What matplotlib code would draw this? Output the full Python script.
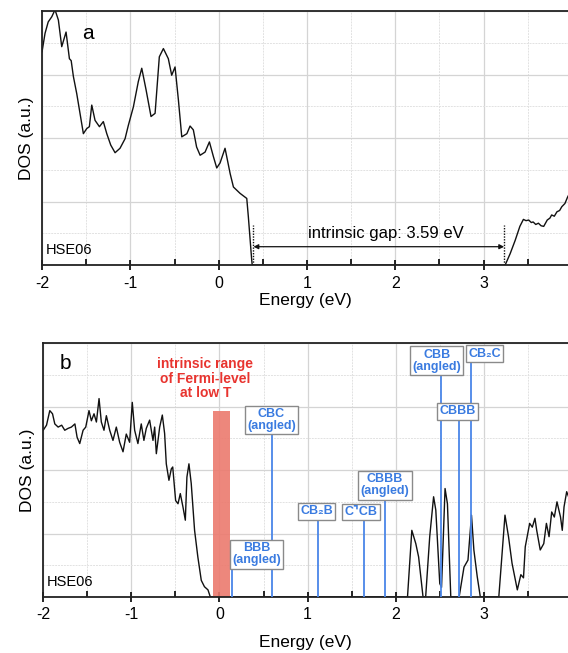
import matplotlib.pyplot as plt
from matplotlib.ticker import MultipleLocator

plt.rcParams['font.family'] = ['Liberation Sans', 'DejaVu Sans']
plt.rcParams['axes.unicode_minus'] = False

# panel a: HSE06 DOS, valence band and conduction band
vb_a_x = [-2.0, -1.966, -1.93, -1.89, -1.853, -1.815, -1.777, -1.728, -1.69, -1.67, -1.645, -1.607,
          -1.57, -1.532, -1.494, -1.464, -1.437, -1.40, -1.35, -1.306, -1.267, -1.222, -1.173, -1.117,
          -1.06, -1.023, -0.966, -0.91, -0.871, -0.822, -0.766, -0.72, -0.672, -0.626, -0.57, -0.532,
          -0.494, -0.456, -0.418, -0.36, -0.324, -0.287, -0.25, -0.21, -0.154, -0.105, -0.06, -0.022,
          0.016, 0.072, 0.13, 0.167, 0.242, 0.318, 0.336, 0.374, 0.38, 3.243]
vb_a_y = [3.36, 3.65, 3.83, 3.91, 4.02, 3.86, 3.44, 3.67, 3.25, 3.22, 2.97, 2.70,
          2.39, 2.07, 2.15, 2.18, 2.52, 2.28, 2.18, 2.26, 2.07, 1.89, 1.77, 1.84,
          1.99, 2.20, 2.49, 2.89, 3.10, 2.76, 2.34, 2.39, 3.28, 3.41, 3.25, 2.99,
          3.12, 2.60, 2.02, 2.07, 2.19, 2.13, 1.86, 1.73, 1.78, 1.94, 1.71, 1.53,
          1.61, 1.84, 1.44, 1.23, 1.13, 1.05, 0.76, 0.08, 0.0, 0.0]
cb_a_x = [3.243, 3.30, 3.357, 3.41, 3.45, 3.48, 3.51, 3.54, 3.56, 3.59, 3.62, 3.65, 3.68, 3.70,
          3.72, 3.75, 3.77, 3.80, 3.83, 3.86, 3.885, 3.92, 3.95, 3.98]
cb_a_y = [0.0, 0.18, 0.39, 0.61, 0.72, 0.70, 0.71, 0.67, 0.68, 0.64, 0.66, 0.62, 0.61, 0.66,
          0.71, 0.74, 0.79, 0.77, 0.84, 0.86, 0.92, 0.97, 1.07, 1.15]
gap_lo, gap_hi = 0.394, 3.232
gap_label = 'intrinsic gap: 3.59 eV'

# panel b: defect levels
vb_b_x = [-2.0, -1.962, -1.925, -1.894, -1.868, -1.83, -1.79, -1.755, -1.717, -1.68, -1.64, -1.615,
          -1.585, -1.547, -1.517, -1.48, -1.453, -1.423, -1.396, -1.366, -1.34, -1.31, -1.283, -1.245,
          -1.208, -1.17, -1.132, -1.094, -1.057, -1.019, -0.989, -0.962, -0.925, -0.887, -0.857, -0.83,
          -0.792, -0.754, -0.735, -0.716, -0.678, -0.648, -0.622, -0.603, -0.573, -0.546, -0.53, -0.497,
          -0.47, -0.444, -0.414, -0.387, -0.369, -0.346, -0.32, -0.282, -0.245, -0.206, -0.17, -0.13,
          -0.104, 2.134]
vb_b_y = [2.63, 2.71, 2.94, 2.89, 2.73, 2.68, 2.71, 2.63, 2.66, 2.68, 2.73, 2.52,
          2.42, 2.63, 2.68, 2.94, 2.78, 2.89, 2.76, 3.13, 2.76, 2.63, 2.86, 2.63,
          2.47, 2.68, 2.44, 2.29, 2.57, 2.44, 3.07, 2.63, 2.42, 2.73, 2.47, 2.66,
          2.79, 2.47, 2.68, 2.26, 2.68, 2.87, 2.58, 2.10, 1.84, 2.02, 2.05, 1.52,
          1.47, 1.63, 1.42, 1.21, 1.89, 2.10, 1.79, 1.05, 0.63, 0.26, 0.16, 0.11,
          0.0, 0.0]
cb_b_x = [2.134, 2.183, 2.228, 2.26, 2.31, 2.34, 2.386, 2.43, 2.455, 2.50, 2.52, 2.56, 2.587, 2.625,
          2.72, 2.775, 2.82, 2.86, 2.887, 2.925, 2.96, 3.17, 3.24, 3.28, 3.32, 3.38, 3.42, 3.45, 3.47,
          3.52, 3.55, 3.58, 3.60, 3.64, 3.68, 3.71, 3.74, 3.77, 3.80, 3.83, 3.87, 3.89, 3.91, 3.94, 3.97]
cb_b_y = [0.0, 1.05, 0.84, 0.63, 0.0, 0.0, 0.95, 1.58, 1.37, 0.21, 0.15, 1.71, 1.47, 0.0,
          0.0, 0.47, 0.58, 1.29, 0.74, 0.32, 0.0, 0.0, 1.29, 0.95, 0.53, 0.11, 0.35, 0.30, 0.79,
          1.16, 1.10, 1.24, 1.05, 0.74, 0.84, 1.16, 0.95, 1.34, 1.26, 1.50, 1.26, 1.05, 1.42, 1.66, 1.55]
fermi_lo, fermi_hi, fermi_top = -0.075, 0.125, 2.93

defect_names = ['BBB\n(angled)', 'CBC\n(angled)', 'CB\u2082B', 'C\u231dCB', 'CBBB\n(angled)',
                'CBB\n(angled)', 'CBBB', 'CB\u2082C']
defect_E = [0.14, 0.594, 1.114, 1.635, 1.88, 2.51, 2.72, 2.85]
line_top = [0.44, 2.55, 1.22, 1.22, 1.52, 3.50, 2.80, 3.71]
label_x = [0.423, 0.59, 1.105, 1.604, 1.88, 2.467, 2.70, 3.01]
label_y = [0.67, 2.79, 1.35, 1.34, 1.76, 3.73, 2.93, 3.84]

fig = plt.figure(figsize=(5.68, 6.53), dpi=100)
ax_a = fig.add_axes([0.074, 0.594, 0.926, 0.389])
ax_b = fig.add_axes([0.076, 0.086, 0.924, 0.388])

for ax, lpad in ((ax_a, 2), (ax_b, 9)):
    ax.set_xlim(-2, 3.955)
    ax.set_ylim(0, 4)
    ax.xaxis.set_major_locator(MultipleLocator(1))
    ax.xaxis.set_minor_locator(MultipleLocator(0.5))
    ax.yaxis.set_major_locator(MultipleLocator(1))
    ax.yaxis.set_minor_locator(MultipleLocator(0.5))
    ax.grid(which='major', color='#d4d4d4', lw=0.9)
    ax.grid(which='minor', color='#e2e2e2', lw=0.7, ls=(0, (2, 1)))
    ax.set_axisbelow(True)
    ax.tick_params(axis='x', which='major', direction='inout', length=7, width=1.2,
                   labelsize=11.5, pad=4)
    ax.tick_params(axis='x', which='minor', direction='in', length=4, width=1.2)
    ax.tick_params(axis='y', which='both', left=False, labelleft=False)
    ax.spines['right'].set_visible(False)
    for s in ('left', 'top', 'bottom'):
        ax.spines[s].set_linewidth(1.3)
        ax.spines[s].set_color('#222222')
    ax.set_xlabel('Energy (eV)', fontsize=12.5, labelpad=lpad)
    ax.set_ylabel('DOS (a.u.)', fontsize=12.5, labelpad=6)
    ax.text(-1.96, 0.24, 'HSE06', fontsize=10.5, ha='left', va='center')

# panel a
ax_a.plot(vb_a_x, vb_a_y, color='#111111', lw=1.0)
ax_a.plot(cb_a_x, cb_a_y, color='#111111', lw=1.0)
ax_a.vlines([gap_lo, gap_hi], 0, 0.63, colors='#111111', lw=1.0, linestyles=(0, (1, 1)))
ax_a.annotate('', xy=(gap_lo, 0.29), xytext=(gap_hi, 0.29),
              arrowprops=dict(arrowstyle='<|-|>', color='#111111', lw=0.9,
                              mutation_scale=7, shrinkA=0, shrinkB=0))
ax_a.text((gap_lo + gap_hi) / 2 + 0.08, 0.50, gap_label, fontsize=12, ha='center', va='center')
ax_a.text(-1.48, 3.65, 'a', fontsize=15, ha='center', va='center')

# panel b
ax_b.plot(vb_b_x, vb_b_y, color='#111111', lw=1.0)
ax_b.plot(cb_b_x, cb_b_y, color='#111111', lw=1.0)
ax_b.fill_between([fermi_lo, fermi_hi], 0, fermi_top, color='#ec7a6e', alpha=0.9, lw=0, zorder=2)
ax_b.text(-0.16, 3.44, 'intrinsic range\nof Fermi-level\nat low T', color='#e8342f',
          fontsize=10, fontweight='bold', ha='center', va='center', linespacing=1.05)
ax_b.text(-1.75, 3.68, 'b', fontsize=15, ha='center', va='center')

for name, e, top, lx, ly in zip(defect_names, defect_E, line_top, label_x, label_y):
    ax_b.vlines(e, 0, top, colors='#4a86e8', lw=1.3, zorder=3)
    ax_b.text(lx, ly, name, color='#3a7be0', fontsize=9, fontweight='bold',
              ha='center', va='center', linespacing=1.0, zorder=4,
              bbox=dict(boxstyle='square,pad=0.18', fc='white', ec='#8a8a8a', lw=1.0))

fig.savefig('out.png', dpi=100)
